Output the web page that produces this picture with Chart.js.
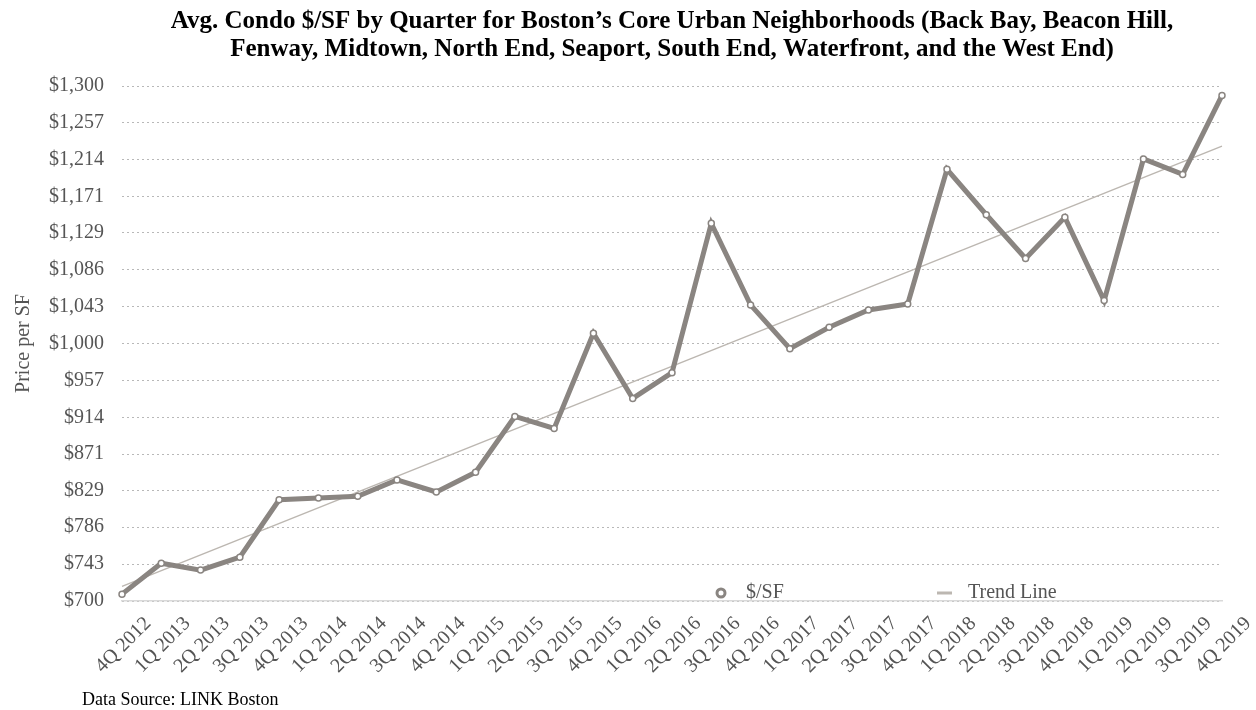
<!DOCTYPE html>
<html>
<head>
<meta charset="utf-8">
<script src="https://cdn.jsdelivr.net/npm/chart.js@4"></script>
<style>
  html, body { margin: 0; padding: 0; background: #ffffff; }
  #wrap { width: 1256px; height: 710px; position: relative; }
</style>
</head>
<body>
<div id="wrap"><canvas id="condoChart" width="1256" height="710"></canvas></div>
<script>
const quarters = [
  "4Q 2012", "1Q 2013", "2Q 2013", "3Q 2013", "4Q 2013", "1Q 2014", "2Q 2014", "3Q 2014",
  "4Q 2014", "1Q 2015", "2Q 2015", "3Q 2015", "4Q 2015", "1Q 2016", "2Q 2016", "3Q 2016",
  "4Q 2016", "1Q 2017", "2Q 2017", "3Q 2017", "4Q 2017", "1Q 2018", "2Q 2018", "3Q 2018",
  "4Q 2018", "1Q 2019", "2Q 2019", "3Q 2019", "4Q 2019"
];
const pricePerSF = [
  708, 744, 736, 751, 818, 820, 822, 841,
  827, 850, 915, 901, 1012, 936, 966, 1140,
  1045, 994, 1019, 1039, 1046, 1203, 1150, 1099,
  1147, 1050, 1215, 1197, 1289
];
// trend line endpoints, drawn straight between them
const trendLine = [717].concat(new Array(27).fill(null), [1230]);
const yTicks = [700, 743, 786, 829, 871, 914, 957, 1000, 1043, 1086, 1129, 1171, 1214, 1257, 1300];

const titleLines = [
  "Avg. Condo $/SF by Quarter for Boston\u2019s Core Urban Neighborhoods (Back Bay, Beacon Hill,",
  "Fenway, Midtown, North End, Seaport, South End, Waterfront, and the West End)"
];
const sourceNote = "Data Source: LINK Boston";

const lineGray = "#8a8581";
const trendGray = "#bcb7b1";
const serif = "'Liberation Serif', 'Times New Roman', serif";

// title, legend and source note drawn onto the canvas
const extras = {
  id: "extras",
  afterDraw(chart) {
    const ctx = chart.ctx;
    const area = chart.chartArea;
    const mid = (area.left + area.right) / 2;
    ctx.save();
    ctx.fillStyle = "#000000";
    ctx.font = "bold 25px " + serif;
    ctx.textAlign = "center";
    ctx.textBaseline = "alphabetic";
    ctx.fillText(titleLines[0], mid, 28);
    ctx.fillText(titleLines[1], mid, 56);

    // legend inside the plot
    const ly = area.bottom - 8;
    ctx.lineWidth = 3;
    ctx.strokeStyle = lineGray;
    ctx.fillStyle = "#ffffff";
    ctx.beginPath();
    ctx.arc(721, ly, 4, 0, Math.PI * 2);
    ctx.fill();
    ctx.stroke();
    ctx.strokeStyle = trendGray;
    ctx.beginPath();
    ctx.moveTo(937, ly);
    ctx.lineTo(952, ly);
    ctx.stroke();
    ctx.fillStyle = "#555555";
    ctx.font = "20px " + serif;
    ctx.textAlign = "left";
    ctx.textBaseline = "middle";
    ctx.fillText("$/SF", 746, ly);
    ctx.fillText("Trend Line", 968, ly);

    ctx.fillStyle = "#000000";
    ctx.font = "18px " + serif;
    ctx.fillText(sourceNote, 82, 700);
    ctx.restore();
  }
};

new Chart(document.getElementById("condoChart"), {
  type: "line",
  data: {
    labels: quarters,
    datasets: [
      {
        label: "$/SF",
        data: pricePerSF,
        borderColor: lineGray,
        borderWidth: 5,
        pointRadius: 3,
        pointBorderWidth: 1.5,
        pointBorderColor: lineGray,
        pointBackgroundColor: "#ffffff",
        tension: 0,
        order: 1
      },
      {
        label: "Trend Line",
        data: trendLine,
        borderColor: trendGray,
        borderWidth: 1.5,
        pointRadius: 0,
        spanGaps: true,
        order: 2
      }
    ]
  },
  options: {
    responsive: false,
    animation: false,
    layout: { padding: { left: 0, right: 34, top: 86, bottom: 34 } },
    plugins: {
      legend: { display: false },
      title: { display: false },
      tooltip: { enabled: false }
    },
    scales: {
      x: {
        offset: false,
        grid: { display: false, drawTicks: false },
        border: { display: true, color: "#d9d9d9", width: 1.5 },
        ticks: {
          color: "#555555",
          font: { family: serif, size: 20 },
          minRotation: 45,
          maxRotation: 45,
          autoSkip: false,
          padding: 11,
          labelOffset: 26
        },
        afterFit(scale) { scale.height = 75; }
      },
      y: {
        min: 700,
        max: 1300,
        afterBuildTicks(scale) { scale.ticks = yTicks.map(v => ({ value: v })); },
        grid: { color: "#b8b8b8", lineWidth: 1, drawTicks: false },
        border: { display: false, dash: [2, 3] },
        ticks: {
          color: "#555555",
          font: { family: serif, size: 20 },
          padding: 18,
          callback: v => "$" + Math.round(v).toLocaleString("en-US")
        },
        title: {
          display: true,
          text: "Price per SF",
          color: "#555555",
          font: { family: serif, size: 20 },
          padding: { top: 12, bottom: 0 }
        },
        afterFit(scale) { scale.width = 122; }
      }
    }
  },
  plugins: [extras]
});
</script>
</body>
</html>
